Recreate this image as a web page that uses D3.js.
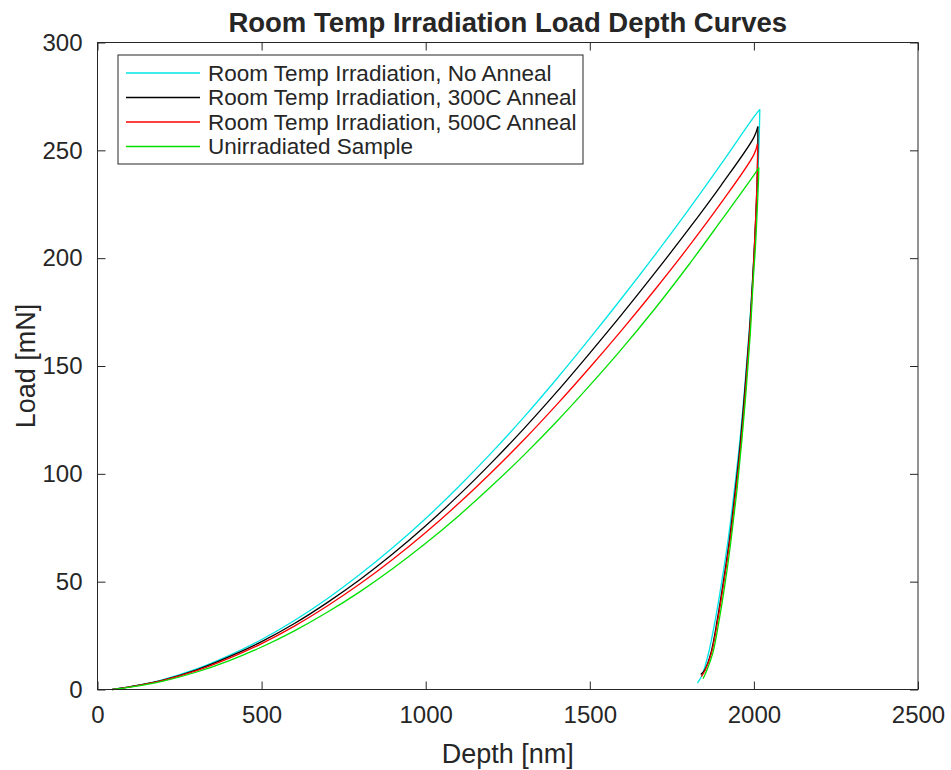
<!DOCTYPE html>
<html>
<head>
<meta charset="utf-8">
<script src="https://cdn.jsdelivr.net/npm/d3@7"></script>
<style>
  body { margin: 0; background: #fff; }
  text { font-family: "Liberation Sans", Arial, sans-serif; fill: #262626; }
</style>
</head>
<body>
<svg id="chart"></svg>
<script>
// loading branch depths (nm), shared by all series
const loadDepth = [45, 100, 200, 300, 400, 500, 600, 700, 800, 900, 1000, 1100, 1200, 1300, 1400, 1500, 1600, 1700, 1800, 1900, 2000];

const noAnnealLoad  = [0, 1.3, 4.6, 9.4, 15.7, 23.2, 32.0, 42.1, 53.4, 65.8, 79.3, 94.0, 109.7, 126.4, 144.2, 162.8, 182.0, 201.8, 222.3, 243.6, 265.5];
const anneal300Load = [0, 1.3, 4.4, 9.0, 15.1, 22.2, 30.6, 40.3, 51.0, 62.9, 75.9, 90.0, 105.1, 121.1, 138.1, 156.0, 174.4, 193.5, 213.2, 233.8, 256.0];
const anneal500Load = [0, 1.2, 4.2, 8.6, 14.4, 21.3, 29.4, 38.7, 49.0, 60.4, 72.8, 86.2, 100.6, 115.9, 132.2, 149.3, 167.1, 185.7, 205.1, 225.6, 248.0];
const unirrLoad     = [0, 1.1, 3.9, 8.0, 13.3, 19.7, 27.2, 35.8, 45.4, 56.1, 67.8, 80.5, 94.2, 108.8, 124.4, 141.0, 158.4, 176.9, 196.6, 217.4, 238.5];

// peak + unloading branch: [depth, load]
const noAnnealUnload  = [[2018, 269], [2016, 255], [2011, 235], [2004, 212], [1996, 190], [1985, 165], [1972, 140], [1957, 115], [1940, 92], [1922, 70], [1902, 50], [1882, 32], [1862, 17], [1843, 7], [1828, 3]];
const anneal300Unload = [[2012, 261], [2012, 252], [2009, 232], [2003, 210], [1996, 190], [1986, 165], [1973, 140], [1959, 115], [1943, 92], [1926, 70], [1907, 50], [1888, 32], [1869, 17], [1850, 9], [1838, 7]];
const anneal500Unload = [[2011, 253], [2011, 245], [2008, 228], [2003, 210], [1997, 190], [1987, 165], [1975, 140], [1961, 115], [1945, 92], [1928, 70], [1909, 50], [1890, 32], [1871, 17], [1852, 9], [1840, 6]];
const unirrUnload     = [[2015, 242], [2014, 236], [2010, 222], [2005, 206], [1998, 190], [1989, 165], [1977, 140], [1963, 115], [1948, 92], [1931, 70], [1913, 50], [1894, 32], [1875, 17], [1857, 9], [1845, 5]];

const seriesNames = [
  "Room Temp Irradiation, No Anneal",
  "Room Temp Irradiation, 300C Anneal",
  "Room Temp Irradiation, 500C Anneal",
  "Unirradiated Sample"
];
const seriesColors = ["#00e5e5", "#000000", "#ff0000", "#00e000"];

const xTicks = [0, 500, 1000, 1500, 2000, 2500];
const yTicks = [0, 50, 100, 150, 200, 250, 300];

const width = 951, height = 770;
const margin = { top: 42.5, right: 33, bottom: 80.5, left: 97.5 };

const svg = d3.select("#chart").attr("width", width).attr("height", height);

const x = d3.scaleLinear().domain([0, 2500]).range([margin.left, width - margin.right]);
const y = d3.scaleLinear().domain([0, 300]).range([height - margin.bottom, margin.top]);

const loads = [noAnnealLoad, anneal300Load, anneal500Load, unirrLoad];
const unloads = [noAnnealUnload, anneal300Unload, anneal500Unload, unirrUnload];

const series = seriesNames.map((name, i) => ({
  name,
  color: seriesColors[i],
  loading: loadDepth.map((d, j) => [d, loads[i][j]]).concat([unloads[i][0]]),
  unloading: unloads[i]
}));

const line = d3.line().x(d => x(d[0])).y(d => y(d[1])).curve(d3.curveCatmullRom);

// curves
series.forEach(s => {
  svg.append("path")
    .attr("d", line(s.loading))
    .attr("fill", "none").attr("stroke", s.color).attr("stroke-width", 1.3);
  svg.append("path")
    .attr("d", line(s.unloading))
    .attr("fill", "none").attr("stroke", s.color).attr("stroke-width", 1.3);
});

// box frame
const x0 = x(0), x1 = x(2500), y0 = y(0), y1 = y(300);
svg.append("rect")
  .attr("x", x0).attr("y", y1).attr("width", x1 - x0).attr("height", y0 - y1)
  .attr("fill", "none").attr("stroke", "#262626").attr("stroke-width", 1);

// axes with inward ticks
const tickLen = 8;
const fmt = d3.format("d");
svg.append("g").attr("transform", `translate(0,${y0})`)
  .call(d3.axisBottom(x).tickValues(xTicks).tickFormat(fmt).tickSizeInner(-tickLen).tickSizeOuter(0).tickPadding(16))
  .call(g => g.select(".domain").remove())
  .call(g => g.selectAll("line").attr("stroke", "#262626"))
  .call(g => g.selectAll("text").style("font-size", "24px").attr("fill", "#262626"));

svg.append("g").attr("transform", `translate(0,${y1})`)
  .call(d3.axisTop(x).tickValues(xTicks).tickSizeInner(-tickLen).tickSizeOuter(0).tickFormat(""))
  .call(g => g.select(".domain").remove())
  .call(g => g.selectAll("line").attr("stroke", "#262626"));

svg.append("g").attr("transform", `translate(${x0},0)`)
  .call(d3.axisLeft(y).tickValues(yTicks).tickFormat(fmt).tickSizeInner(-tickLen).tickSizeOuter(0).tickPadding(15))
  .call(g => g.select(".domain").remove())
  .call(g => g.selectAll("line").attr("stroke", "#262626"))
  .call(g => g.selectAll("text").style("font-size", "24px").attr("fill", "#262626"));

svg.append("g").attr("transform", `translate(${x1},0)`)
  .call(d3.axisRight(y).tickValues(yTicks).tickSizeInner(-tickLen).tickSizeOuter(0).tickFormat(""))
  .call(g => g.select(".domain").remove())
  .call(g => g.selectAll("line").attr("stroke", "#262626"));

// titles
svg.append("text")
  .attr("x", (x0 + x1) / 2).attr("y", 32)
  .attr("text-anchor", "middle")
  .style("font-size", "27.5px").style("font-weight", "bold")
  .attr("fill", "#000")
  .text("Room Temp Irradiation Load Depth Curves");

svg.append("text")
  .attr("x", (x0 + x1) / 2).attr("y", 763)
  .attr("text-anchor", "middle")
  .style("font-size", "27px")
  .text("Depth [nm]");

svg.append("text")
  .attr("transform", `translate(35,${(y0 + y1) / 2}) rotate(-90)`)
  .attr("text-anchor", "middle")
  .style("font-size", "27px")
  .text("Load [mN]");

// legend
const legend = svg.append("g").attr("transform", "translate(118,55)");
legend.append("rect")
  .attr("width", 465).attr("height", 109)
  .attr("fill", "#fff").attr("stroke", "#262626").attr("stroke-width", 1);

series.forEach((s, i) => {
  const cy = 18 + i * 24.5;
  legend.append("line")
    .attr("x1", 8).attr("x2", 82).attr("y1", cy).attr("y2", cy)
    .attr("stroke", s.color).attr("stroke-width", 1.3);
  legend.append("text")
    .attr("x", 90).attr("y", cy)
    .attr("dy", "0.35em")
    .style("font-size", "22.5px")
    .text(s.name);
});
</script>
</body>
</html>
